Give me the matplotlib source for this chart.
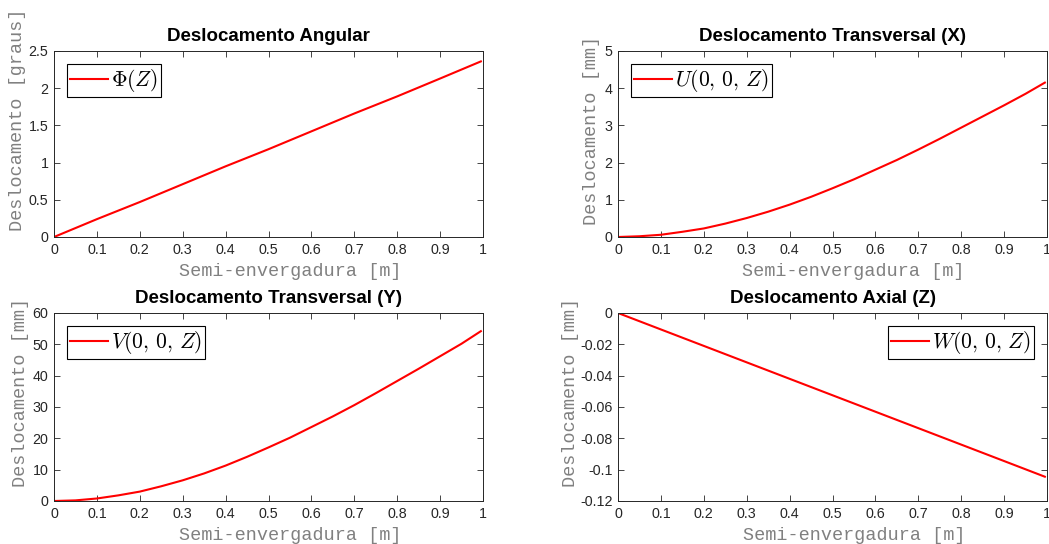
import matplotlib
matplotlib.use("Agg")
import matplotlib.pyplot as plt
from matplotlib.ticker import FuncFormatter, MultipleLocator

plt.rcParams["mathtext.fontset"] = "cm"
plt.rcParams["axes.unicode_minus"] = False

# Span positions along the semi-span [m]
z_coarse = [0.0, 0.1, 0.2, 0.3, 0.4, 0.5, 0.6, 0.7, 0.8, 0.9, 0.995]
z_fine = [0.0, 0.05, 0.1, 0.15, 0.2, 0.25, 0.3, 0.35, 0.4, 0.45, 0.5,
          0.55, 0.6, 0.65, 0.7, 0.75, 0.8, 0.85, 0.9, 0.95, 0.995]

# Angular displacement [degrees]
phi = [0.0, 0.24, 0.47, 0.71, 0.95, 1.18, 1.42, 1.66, 1.89, 2.13, 2.36]
# Transverse displacement X [mm]
u_disp = [0.0, 0.02, 0.06, 0.14, 0.23, 0.36, 0.51, 0.68, 0.87, 1.08, 1.31,
          1.55, 1.81, 2.07, 2.35, 2.64, 2.94, 3.24, 3.54, 3.85, 4.15]
# Transverse displacement Y [mm]
v_disp = [0.0, 0.2, 0.8, 1.8, 3.0, 4.7, 6.6, 8.8, 11.3, 14.1, 17.1,
          20.2, 23.6, 27.0, 30.6, 34.4, 38.3, 42.2, 46.2, 50.2, 54.2]
# Axial displacement Z [mm]
w_disp = [0.0, -0.0105, -0.021, -0.0315, -0.042, -0.0525, -0.063,
          -0.0735, -0.084, -0.0945, -0.1045]

titles = ["Deslocamento Angular", "Deslocamento Transversal (X)",
          "Deslocamento Transversal (Y)", "Deslocamento Axial (Z)"]
ylabels = ["Deslocamento [graus]", "Deslocamento [mm]",
           "Deslocamento [mm]", "Deslocamento [mm]"]
legend_labels = [r"$\Phi(Z)$", r"$U(0,\,0,\,Z)$", r"$V(0,\,0,\,Z)$", r"$W(0,\,0,\,Z)$"]
xlabel = "Semi-envergadura [m]"

W, H = 1049, 544
fig = plt.figure(figsize=(W / 100, H / 100), dpi=100)

def box(l, t, r, b):
    return [l / W, 1 - b / H, (r - l) / W, (b - t) / H]

axes_boxes = [box(54, 51, 483, 237), box(618, 51, 1047, 237),
              box(54, 313, 483, 501), box(618, 313, 1047, 501)]

series = [(z_coarse, phi), (z_fine, u_disp), (z_fine, v_disp), (z_coarse, w_disp)]
ylims = [(0, 2.5), (0, 5), (0, 60), (-0.12, 0)]
ysteps = [0.5, 1, 10, 0.02]
leg_locs = ["upper left", "upper left", "upper left", "upper right"]
# label centres in axes coordinates
xlabel_pos = [(0.550, -0.183), (0.548, -0.183), (0.550, -0.181), (0.550, -0.181)]
ylabel_pos = [(-0.084, 0.629), (-0.061, 0.575), (-0.077, 0.580), (-0.110, 0.580)]

fmt = FuncFormatter(lambda v, _: f"{round(v, 10) + 0.0:g}")

axis_color = "#262626"
label_color = "#808080"
for i in range(4):
    ax = fig.add_axes(axes_boxes[i])
    x, y = series[i]
    ax.plot(x, y, color="red", lw=1.5, label=legend_labels[i])
    ax.set_xlim(0, 1)
    ax.set_ylim(*ylims[i])
    ax.xaxis.set_major_locator(MultipleLocator(0.1))
    ax.yaxis.set_major_locator(MultipleLocator(ysteps[i]))
    ax.xaxis.set_major_formatter(fmt)
    ax.yaxis.set_major_formatter(fmt)
    ax.tick_params(direction="in", top=True, right=True, length=4,
                   width=0.6, color=axis_color, labelcolor=axis_color,
                   labelsize=10.3, pad=4)
    for lbl in ax.get_xticklabels() + ax.get_yticklabels():
        lbl.set_family("Liberation Sans")
    for s in ax.spines.values():
        s.set_color(axis_color)
        s.set_linewidth(0.7)
    ax.set_title(titles[i], fontsize=13.5, fontweight="bold",
                 family="Liberation Sans", pad=7)
    ax.set_xlabel(xlabel, family="Liberation Mono", fontsize=13.3,
                  color=label_color, va="center")
    ax.xaxis.set_label_coords(*xlabel_pos[i])
    ax.set_ylabel(ylabels[i], family="Liberation Mono", fontsize=13.3,
                  color=label_color, va="center")
    ax.yaxis.set_label_coords(*ylabel_pos[i])
    leg = ax.legend(loc=leg_locs[i], fontsize=15.5, frameon=True,
                    fancybox=False, framealpha=1, edgecolor="black",
                    handlelength=1.75, handletextpad=0.15, borderpad=0.15,
                    borderaxespad=0.6)
    leg.get_frame().set_linewidth(0.8)

fig.savefig("out.png", dpi=100)
